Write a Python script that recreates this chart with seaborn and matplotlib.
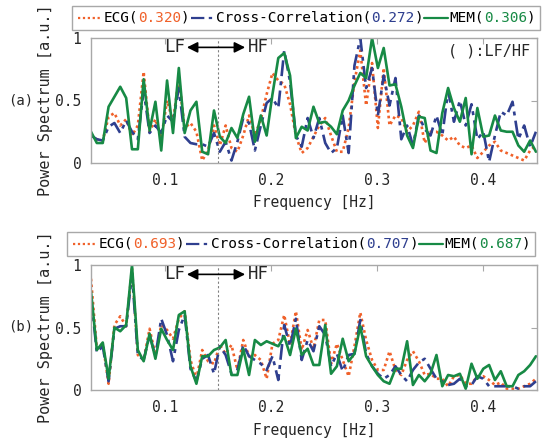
import numpy as np
import matplotlib
matplotlib.use("Agg")
import matplotlib.pyplot as plt
import seaborn as sns
from matplotlib.offsetbox import AnchoredOffsetbox, HPacker, TextArea, DrawingArea
from matplotlib.lines import Line2D

# frequency bins [Hz]
freq = np.round(np.linspace(0.03, 0.45, 77), 4)

# (a) normalized power spectra
ecg_a = [0.22, 0.19, 0.18, 0.37, 0.40, 0.30, 0.35, 0.22, 0.30, 0.73, 0.25, 0.35, 0.20, 0.50, 0.33, 0.68,
         0.28, 0.32, 0.25, 0.02, 0.10, 0.30, 0.14, 0.30, 0.12, 0.09, 0.22, 0.38, 0.22, 0.35, 0.55, 0.72,
         0.66, 0.63, 0.47, 0.22, 0.08, 0.12, 0.21, 0.30, 0.36, 0.22, 0.09, 0.09, 0.28, 0.65, 0.90, 0.46,
         0.80, 0.28, 0.76, 0.30, 0.38, 0.36, 0.25, 0.30, 0.41, 0.16, 0.25, 0.25, 0.22, 0.18, 0.21, 0.14,
         0.12, 0.14, 0.04, 0.09, 0.14, 0.17, 0.10, 0.08, 0.06, 0.04, 0.02, 0.10, 0.14]
cc_a = [0.22, 0.19, 0.18, 0.29, 0.32, 0.24, 0.34, 0.25, 0.19, 0.58, 0.24, 0.30, 0.24, 0.38, 0.33, 0.60,
        0.21, 0.16, 0.15, 0.15, 0.13, 0.24, 0.09, 0.17, 0.02, 0.17, 0.36, 0.32, 0.10, 0.30, 0.48, 0.52,
        0.44, 0.90, 0.65, 0.22, 0.13, 0.36, 0.20, 0.36, 0.16, 0.08, 0.12, 0.38, 0.08, 0.78, 1.00, 0.60,
        0.76, 0.38, 0.70, 0.46, 0.68, 0.19, 0.30, 0.14, 0.38, 0.27, 0.22, 0.38, 0.22, 0.58, 0.33, 0.50,
        0.30, 0.47, 0.19, 0.25, 0.01, 0.22, 0.41, 0.38, 0.49, 0.19, 0.30, 0.13, 0.25]
mem_a = [0.25, 0.16, 0.16, 0.45, 0.53, 0.61, 0.52, 0.11, 0.11, 0.67, 0.26, 0.49, 0.10, 0.66, 0.24, 0.76,
         0.24, 0.42, 0.49, 0.09, 0.07, 0.42, 0.21, 0.16, 0.28, 0.20, 0.39, 0.53, 0.17, 0.38, 0.22, 0.55,
         0.84, 0.88, 0.70, 0.20, 0.29, 0.26, 0.45, 0.32, 0.33, 0.29, 0.23, 0.42, 0.50, 0.62, 0.72, 0.68,
         1.00, 0.76, 0.92, 0.62, 0.63, 0.45, 0.22, 0.12, 0.37, 0.36, 0.10, 0.08, 0.40, 0.60, 0.44, 0.33,
         0.52, 0.07, 0.44, 0.21, 0.22, 0.38, 0.26, 0.25, 0.25, 0.14, 0.09, 0.18, 0.09]

# (b)
ecg_b = [0.89, 0.33, 0.37, 0.05, 0.52, 0.59, 0.51, 0.97, 0.28, 0.24, 0.49, 0.28, 0.52, 0.48, 0.41, 0.57,
         0.63, 0.24, 0.09, 0.32, 0.23, 0.21, 0.36, 0.29, 0.36, 0.16, 0.40, 0.27, 0.28, 0.24, 0.09, 0.37,
         0.40, 0.60, 0.36, 0.63, 0.32, 0.48, 0.33, 0.56, 0.56, 0.21, 0.37, 0.24, 0.11, 0.35, 0.62, 0.40,
         0.24, 0.16, 0.16, 0.31, 0.16, 0.12, 0.24, 0.31, 0.23, 0.12, 0.13, 0.09, 0.09, 0.03, 0.11, 0.12,
         0.05, 0.05, 0.11, 0.11, 0.08, 0.04, 0.06, 0.01, 0.01, 0.01, 0.03, 0.05, 0.09]
cc_b = [0.75, 0.30, 0.35, 0.07, 0.49, 0.51, 0.51, 0.93, 0.28, 0.24, 0.44, 0.27, 0.57, 0.44, 0.23, 0.48,
        0.60, 0.17, 0.07, 0.25, 0.28, 0.13, 0.35, 0.28, 0.13, 0.16, 0.36, 0.27, 0.24, 0.21, 0.16, 0.27,
        0.08, 0.52, 0.35, 0.57, 0.24, 0.40, 0.31, 0.51, 0.44, 0.19, 0.29, 0.15, 0.28, 0.29, 0.56, 0.29,
        0.19, 0.13, 0.09, 0.12, 0.19, 0.12, 0.07, 0.16, 0.22, 0.25, 0.17, 0.09, 0.07, 0.04, 0.05, 0.09,
        0.03, 0.04, 0.11, 0.09, 0.03, 0.03, 0.03, 0.03, 0.03, 0.01, 0.03, 0.03, 0.07]
mem_b = [0.79, 0.32, 0.38, 0.09, 0.50, 0.47, 0.52, 1.00, 0.32, 0.23, 0.45, 0.25, 0.49, 0.40, 0.32, 0.60,
         0.63, 0.19, 0.05, 0.27, 0.27, 0.32, 0.34, 0.40, 0.12, 0.12, 0.33, 0.12, 0.40, 0.36, 0.39, 0.37,
         0.35, 0.43, 0.28, 0.49, 0.28, 0.33, 0.20, 0.20, 0.52, 0.13, 0.19, 0.41, 0.23, 0.29, 0.51, 0.27,
         0.19, 0.12, 0.07, 0.05, 0.17, 0.17, 0.39, 0.04, 0.12, 0.07, 0.13, 0.28, 0.03, 0.12, 0.11, 0.13,
         0.01, 0.21, 0.09, 0.17, 0.20, 0.08, 0.15, 0.03, 0.03, 0.12, 0.15, 0.20, 0.27]

# LF/HF ratios shown in the legends
ratio_a = ["0.320", "0.272", "0.306"]
ratio_b = ["0.693", "0.707", "0.687"]
names = ["ECG", "Cross-Correlation", "MEM"]

ORANGE = "#f0612a"
BLUE = "#2f3f8f"
GREEN = "#178a45"
colors = [ORANGE, BLUE, GREEN]
styles = [(0, (1, 1.2)), (0, (6, 2, 1.5, 2)), "-"]
FRAME = "#a8a8a8"

sns.set_style("white")
plt.rcParams["font.family"] = ["DejaVu Sans Mono"]

fig = plt.figure(figsize=(5.48, 4.45), dpi=100)
W, H = 548, 445


def draw_panel(ax, series):
    for y, c, ls in zip(series, colors, styles):
        sns.lineplot(x=freq, y=y, ax=ax, color=c, linestyle=ls, linewidth=1.9)
    ax.set_xlim(0.03, 0.451)
    ax.set_ylim(0, 1)
    ax.set_xticks([0.1, 0.2, 0.3, 0.4])
    ax.set_xticklabels(["0.1", "0.2", "0.3", "0.4"])
    ax.set_yticks([0, 0.5, 1])
    ax.set_yticklabels(["0", "0.5", "1"])
    ax.tick_params(direction="in", length=4, color=FRAME, top=True, right=True,
                   labelsize=10.5, pad=7)
    for s in ax.spines.values():
        s.set_color(FRAME)
        s.set_linewidth(1)
    ax.axvline(0.15, color="#808080", linestyle=(0, (2, 2)), linewidth=0.8)
    ax.annotate("", xy=(0.1205, 0.925), xytext=(0.1755, 0.925),
                arrowprops=dict(arrowstyle="<|-|>", color="black", lw=1.2,
                                mutation_scale=16, shrinkA=0, shrinkB=0))
    ax.text(0.119, 0.925, "LF", ha="right", va="center", fontsize=12.5)
    ax.text(0.178, 0.925, "HF", ha="left", va="center", fontsize=12.5)
    ax.set_xlabel("Frequency [Hz]", fontsize=10.5)
    ax.xaxis.set_label_coords(0.5, -0.26)
    ax.xaxis.label.set_va("top")
    ax.set_ylabel("Power Spectrum [a.u.]", fontsize=11)
    ax.yaxis.set_label_coords(-0.085, 0.5)


def add_legend(left_px, top_px, ratios):
    parts = []
    for name, r, c, ls in zip(names, ratios, colors, styles):
        da = DrawingArea(19, 8, 0, 0)
        da.add_artist(Line2D([1, 18], [4, 4], color=c, linestyle=ls, linewidth=1.6))
        parts.append(da)
        parts.append(TextArea(name + "(", textprops=dict(fontsize=10.4, color="black")))
        parts.append(TextArea(r, textprops=dict(fontsize=10.4, color=c)))
        parts.append(TextArea(")", textprops=dict(fontsize=10.4, color="black")))
    box = HPacker(children=parts, align="center", pad=0, sep=0)
    anchored = AnchoredOffsetbox(loc="upper left", child=box, pad=0.35, borderpad=0,
                                 frameon=True,
                                 bbox_to_anchor=(left_px / W, 1 - top_px / H),
                                 bbox_transform=fig.transFigure)
    anchored.patch.set_edgecolor(FRAME)
    anchored.patch.set_linewidth(1)
    fig.add_artist(anchored)


ax_a = fig.add_axes([91 / W, 1 - 163 / H, 446 / W, 125 / H])
ax_b = fig.add_axes([91 / W, 1 - 390 / H, 446 / W, 125 / H])

draw_panel(ax_a, [ecg_a, cc_a, mem_a])
draw_panel(ax_b, [ecg_b, cc_b, mem_b])

ax_a.text(0.985, 0.9, "( ):LF/HF", transform=ax_a.transAxes, ha="right", va="center",
          fontsize=11)

add_legend(72, 6, ratio_a)
add_legend(67, 232, ratio_b)

fig.text(21 / W, 1 - 100 / H, "(a)", ha="center", va="center", fontsize=10)
fig.text(21 / W, 1 - 326 / H, "(b)", ha="center", va="center", fontsize=10)

fig.savefig("out.png", dpi=100)
